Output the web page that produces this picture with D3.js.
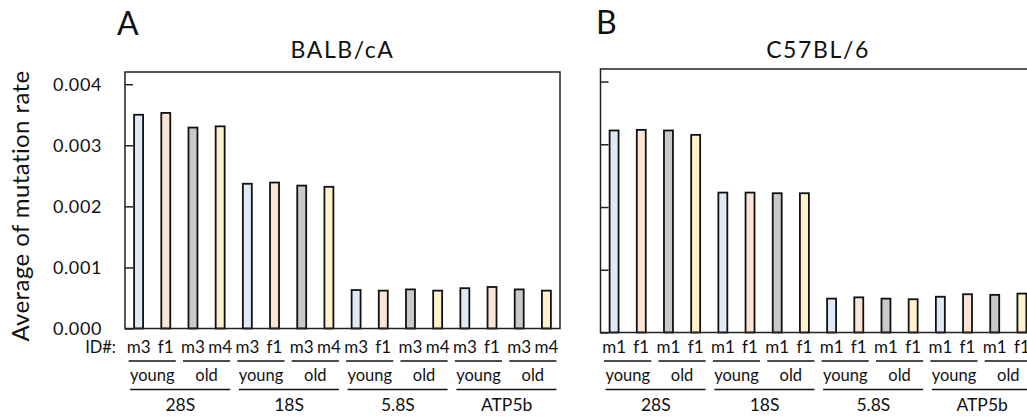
<!DOCTYPE html>
<meta charset="utf-8">
<script src="https://d3js.org/d3.v7.js"></script>
<style>
body { margin: 0; background-color: white; }
svg text { font-family: Lato, "Open Sans", sans-serif; fill: #111; }
</style>
<div id="chart"></div>
<script>
  // values
  var genes = ["28S", "18S", "5.8S", "ATP5b"];
  var ages = ["young", "old"];
  var idsA = ["m3", "f1", "m3", "m4"];
  var idsB = ["m1", "f1", "m1", "f1"];
  var valuesA = [0.00350, 0.00353, 0.00329, 0.00331,
                 0.00237, 0.00239, 0.00234, 0.00232,
                 0.00063, 0.00062, 0.00064, 0.00062,
                 0.00066, 0.00068, 0.00064, 0.00062];
  var valuesB = [0.00322, 0.00323, 0.00322, 0.00315,
                 0.00223, 0.00223, 0.00222, 0.00222,
                 0.00054, 0.00056, 0.00054, 0.00053,
                 0.00057, 0.00061, 0.00060, 0.00062];
  var yTicks = [0, 0.001, 0.002, 0.003, 0.004];
  var barColors = ["#deebf7", "#fbe5d6", "#c9c9c9", "#fff2cc"];

  var width = 1027, height = 417;

  var svg = d3.select("#chart")
    .append("svg")
      .attr("width", width)
      .attr("height", height);

  function drawPanel(opt) {
    var left = opt.left, top = opt.top, bottom = opt.bottom, w = 435;
    var n = genes.length * 4;

    var x = d3.scaleBand()
      .domain(d3.range(n))
      .range([left, left + w])
      .paddingInner(0.67)
      .paddingOuter(0.335);
    var cx = function(i) { return x(i) + x.bandwidth() / 2; };

    var y = d3.scaleLinear()
      .domain([0, 0.0042])
      .range([bottom, top]);

    var g = svg.append("g");

    // panel letter + strain title
    g.append("text")
      .attr("x", opt.letterX)
      .attr("y", opt.letterY)
      .style("font-size", "32px")
      .text(opt.letter);
    g.append("text")
      .attr("x", left + w / 2)
      .attr("y", 58)
      .attr("text-anchor", "middle")
      .style("font-size", "23px")
      .style("letter-spacing", "1.6px")
      .text(opt.title);

    // bars
    g.append("g")
      .selectAll("rect")
      .data(opt.values)
      .enter()
      .append("rect")
        .attr("x", function(d, i) { return x(i); })
        .attr("y", function(d) { return y(d); })
        .attr("width", x.bandwidth())
        .attr("height", function(d) { return y(0) - y(d); })
        .attr("fill", function(d, i) { return barColors[i % 4]; })
        .attr("stroke", "#111")
        .attr("stroke-width", 1.8);

    // frame
    g.append("rect")
      .attr("x", left)
      .attr("y", top)
      .attr("width", w)
      .attr("height", bottom - top)
      .attr("fill", "none")
      .attr("stroke", "#222")
      .attr("stroke-width", 1.5);

    // inward ticks on the left axis
    var axis = d3.axisRight(y)
      .tickValues(yTicks)
      .tickSize(8)
      .tickFormat("");
    var ax = g.append("g")
      .attr("transform", "translate(" + left + ",0)")
      .call(axis);
    ax.select(".domain").remove();
    ax.selectAll("line").attr("stroke", "#222").attr("stroke-width", 1.5);

    if (opt.showTickLabels) {
      g.append("g")
        .selectAll("text")
        .data(yTicks)
        .enter()
        .append("text")
          .attr("x", left - 23)
          .attr("y", function(d) { return y(d); })
          .attr("dy", "0.35em")
          .attr("text-anchor", "end")
          .style("font-size", "18px")
          .style("letter-spacing", "0.6px")
          .text(function(d) { return d3.format(".3f")(d); });
    }

    // ID# row
    g.append("g")
      .selectAll("text")
      .data(d3.range(n))
      .enter()
      .append("text")
        .attr("x", function(i) { return cx(i); })
        .attr("y", 353)
        .attr("text-anchor", "middle")
        .style("font-size", "17px")
        .text(function(i) { return opt.ids[i % 4]; });

    // young / old pairs
    var pairs = d3.range(n / 2);
    g.append("g")
      .selectAll("line")
      .data(pairs)
      .enter()
      .append("line")
        .attr("x1", function(p) { return cx(p * 2) - 10; })
        .attr("x2", function(p) { return cx(p * 2 + 1) + 10; })
        .attr("y1", 361).attr("y2", 361)
        .attr("stroke", "#111")
        .attr("stroke-width", 1.5);
    g.append("g")
      .selectAll("text")
      .data(pairs)
      .enter()
      .append("text")
        .attr("x", function(p) { return (cx(p * 2) + cx(p * 2 + 1)) / 2; })
        .attr("y", 381)
        .attr("text-anchor", "middle")
        .style("font-size", "16.5px")
        .text(function(p) { return ages[p % 2]; });

    // gene groups
    g.append("g")
      .selectAll("line")
      .data(genes)
      .enter()
      .append("line")
        .attr("x1", function(d, k) { return cx(k * 4) - 8.5; })
        .attr("x2", function(d, k) { return cx(k * 4 + 3) + 10; })
        .attr("y1", 389.5).attr("y2", 389.5)
        .attr("stroke", "#111")
        .attr("stroke-width", 1.5);
    g.append("g")
      .selectAll("text")
      .data(genes)
      .enter()
      .append("text")
        .attr("x", function(d, k) { return (cx(k * 4) + cx(k * 4 + 3)) / 2 + 1; })
        .attr("y", 411)
        .attr("text-anchor", "middle")
        .style("font-size", "17.5px")
        .text(function(d) { return d; });
  }

  drawPanel({left: 125, top: 72, bottom: 328.5, letter: "A", letterX: 117, letterY: 35,
             title: "BALB/cA", values: valuesA, ids: idsA, showTickLabels: true});
  drawPanel({left: 600.5, top: 69, bottom: 332.5, letter: "B", letterX: 596, letterY: 34,
             title: "C57BL/6", values: valuesB, ids: idsB, showTickLabels: false});

  svg.append("text")
    .attr("x", 116)
    .attr("y", 353)
    .attr("text-anchor", "end")
    .style("font-size", "16.5px")
    .text("ID#:");

  svg.append("text")
    .attr("transform", "translate(29,206) rotate(-90)")
    .attr("text-anchor", "middle")
    .style("font-size", "24px")
    .style("letter-spacing", "0.4px")
    .text("Average of mutation rate");
</script>
